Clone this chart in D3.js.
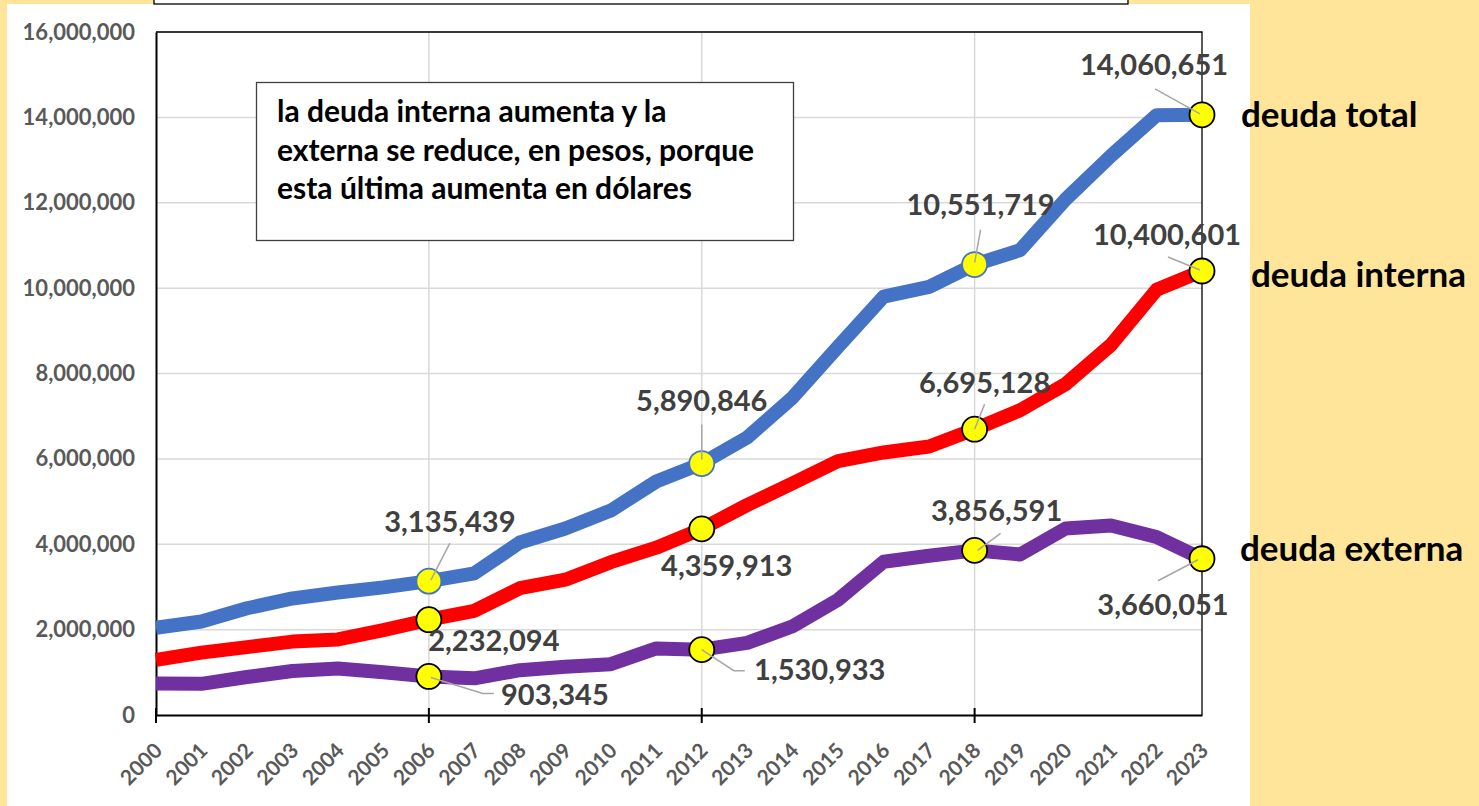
<!DOCTYPE html>
<html><head><meta charset="utf-8">
<script src="https://cdn.jsdelivr.net/npm/d3@7"></script>
<style>
html,body{margin:0;padding:0;background:#FFE599;}
svg{display:block;}
</style></head>
<body>
<svg id="c" width="1479" height="806"></svg>
<script>
const years = ["2000","2001","2002","2003","2004","2005","2006","2007","2008","2009","2010","2011","2012","2013","2014","2015","2016","2017","2018","2019","2020","2021","2022","2023"];
const deudaTotal = [2045000,2190000,2500000,2730000,2870000,2990000,3135439,3320000,4040000,4370000,4790000,5470000,5890846,6500000,7440000,8630000,9800000,10030000,10551719,10890000,12080000,13100000,14050000,14060651];
const deudaInterna = [1290000,1460000,1590000,1720000,1770000,1990000,2232094,2440000,2970000,3170000,3580000,3920000,4359913,4920000,5430000,5950000,6150000,6290000,6695128,7140000,7750000,8670000,9960000,10400601];
const deudaExterna = [740000,730000,890000,1030000,1090000,1000000,903345,860000,1050000,1130000,1190000,1560000,1530933,1690000,2080000,2700000,3590000,3730000,3856591,3760000,4370000,4440000,4170000,3660051];
const yTicks = [0,2000000,4000000,6000000,8000000,10000000,12000000,14000000,16000000];
const markedYears = ["2006","2012","2018","2023"];
const seriesNames = ["deuda total","deuda interna","deuda externa"];
const noteLines = ["la deuda interna aumenta y la","externa se reduce, en pesos, porque","esta última aumenta en dólares"];

// layout / style config
const series = [
  {name: seriesNames[0], values: deudaTotal, color: "#4472C4", markerStroke: ["#4472C4","#4472C4","#4472C4","#000"],
   labels: [{dx:21,dy:-60,lead:[[2,-1],[21,-38]]},{dx:0,dy:-63,lead:[[0,-4],[0,-39]]},{dx:6,dy:-60,lead:[[0,-2],[6,-35]]},{dx:-48,dy:-50,lead:[[-2,-1],[-47,-26]]}],
   nameX:1241, nameY:127},
  {name: seriesNames[1], values: deudaInterna, color: "#FF0000", markerStroke: ["#000","#000","#000","#000"],
   labels: [{dx:65,dy:21,lead:null},{dx:25,dy:37,lead:null},{dx:10,dy:-47,lead:[[0,0],[10,-25]]},{dx:-35,dy:-36,lead:[[-2,-1],[-34,-14]]}],
   nameX:1251, nameY:287},
  {name: seriesNames[2], values: deudaExterna, color: "#7030A0", markerStroke: ["#000","#000","#000","#000"],
   labels: [{dx:126,dy:18,lead:[[2,1],[54,17],[65,17]]},{dx:118,dy:20,lead:[[0,0],[32,21],[43,21]]},{dx:22,dy:-40,lead:[[3,0],[26,-17]]},{dx:-39,dy:46,lead:[[-4,1],[-44,22]]}],
   nameX:1240, nameY:561}
];

const svg = d3.select("#c");
const W = 1479, H = 806;
const plot = {left:156, right:1202, top:32, bottom:715};

// background panels
svg.append("rect").attr("x",0).attr("y",0).attr("width",W).attr("height",H).attr("fill","#FFE599");
svg.append("rect").attr("x",7).attr("y",4).attr("width",1243).attr("height",H-4).attr("fill","#fff");
svg.append("rect").attr("x",154).attr("y",-30).attr("width",974).attr("height",34).attr("fill","#fff").attr("stroke","#000").attr("stroke-width",1.3);

const x = d3.scalePoint().domain(years).range([plot.left, plot.right]);
const y = d3.scaleLinear().domain([0,16000000]).range([plot.bottom, plot.top]);

// horizontal gridlines
svg.append("g").selectAll("line").data(yTicks.filter(d=>d>0)).join("line")
  .attr("x1",plot.left).attr("x2",plot.right).attr("y1",d=>y(d)).attr("y2",d=>y(d))
  .attr("stroke","#d9d9d9").attr("stroke-width",1.5);
// vertical gridlines
svg.append("g").selectAll("line").data(["2006","2012","2018"]).join("line")
  .attr("x1",d=>x(d)).attr("x2",d=>x(d)).attr("y1",plot.top).attr("y2",plot.bottom)
  .attr("stroke","#d9d9d9").attr("stroke-width",1.5);

// plot border top/right
svg.append("path").attr("d",`M${plot.left},${plot.top}H${plot.right}V${plot.bottom}`)
  .attr("fill","none").attr("stroke","#000").attr("stroke-width",1.3);

// y axis
const yAxis = d3.axisLeft(y).tickValues(yTicks).tickSize(0).tickPadding(21).tickFormat(d3.format(","));
const gy = svg.append("g").attr("transform",`translate(${plot.left},0)`).call(yAxis);
gy.select(".domain").attr("stroke","#000").attr("stroke-width",2);
gy.selectAll("text").attr("font-family","Lato").attr("font-weight","bold").attr("font-size",22).attr("fill","#595959");

// x axis
const xAxis = d3.axisBottom(x).tickSize(0).tickPadding(0);
const gx = svg.append("g").attr("transform",`translate(0,${plot.bottom})`).call(xAxis);
gx.select(".domain").attr("stroke","#000").attr("stroke-width",2.2);
gx.selectAll("text").attr("font-family","Lato").attr("font-weight","bold").attr("font-size",21).attr("fill","#595959")
  .attr("text-anchor","end").attr("dy",0)
  .attr("transform","translate(7,37) rotate(-45)");
// major tick marks
svg.append("g").selectAll("line").data(["2000","2006","2012","2018"]).join("line")
  .attr("x1",d=>x(d)).attr("x2",d=>x(d)).attr("y1",plot.bottom-7).attr("y2",plot.bottom+8)
  .attr("stroke","#000").attr("stroke-width",2);

// note box
const box = svg.append("g");
box.append("rect").attr("x",256.5).attr("y",82.5).attr("width",537).attr("height",158)
  .attr("fill","#fff").attr("stroke","#404040").attr("stroke-width",1.3);
box.selectAll("text").data(noteLines).join("text")
  .attr("x",277).attr("y",(d,i)=>122+i*38.6)
  .attr("font-family","Lato").attr("font-weight","bold").attr("font-size",30).attr("fill","#000")
  .text(d=>d);

// lines
const line = d3.line().x((d,i)=>x(years[i])).y(d=>y(d));
series.forEach(s=>{
  svg.append("path").datum(s.values).attr("d",line)
    .attr("fill","none").attr("stroke",s.color).attr("stroke-width",14)
    .attr("stroke-linejoin","round");
});

// markers
series.forEach(s=>{
  svg.append("g").selectAll("circle").data(markedYears).join("circle")
    .attr("cx",d=>x(d)).attr("cy",d=>y(s.values[years.indexOf(d)]))
    .attr("r",12.5).attr("fill","#FFFF00")
    .attr("stroke",(d,i)=>s.markerStroke[i]).attr("stroke-width",1.8);
});

// leader lines and data labels
const fmt = d3.format(",");
series.forEach(s=>{
  markedYears.forEach((yr,i)=>{
    const px = x(yr), py = y(s.values[years.indexOf(yr)]);
    const L = s.labels[i];
    if (L.lead) {
      svg.append("polyline").attr("points",L.lead.map(p=>`${px+p[0]},${py+p[1]}`).join(" "))
        .attr("fill","none").attr("stroke","#A6A6A6").attr("stroke-width",1.5);
    }
    svg.append("text").attr("x",px+L.dx).attr("y",py+L.dy).attr("dy","0.36em")
      .attr("text-anchor","middle").attr("font-family","Lato").attr("font-weight","bold")
      .attr("font-size",29).attr("fill","#404040").text(fmt(s.values[years.indexOf(yr)]));
  });
  svg.append("text").attr("x",s.nameX).attr("y",s.nameY)
    .attr("font-family","Lato").attr("font-weight","bold").attr("font-size",35).attr("fill","#000")
    .text(s.name);
});
</script>
</body></html>
